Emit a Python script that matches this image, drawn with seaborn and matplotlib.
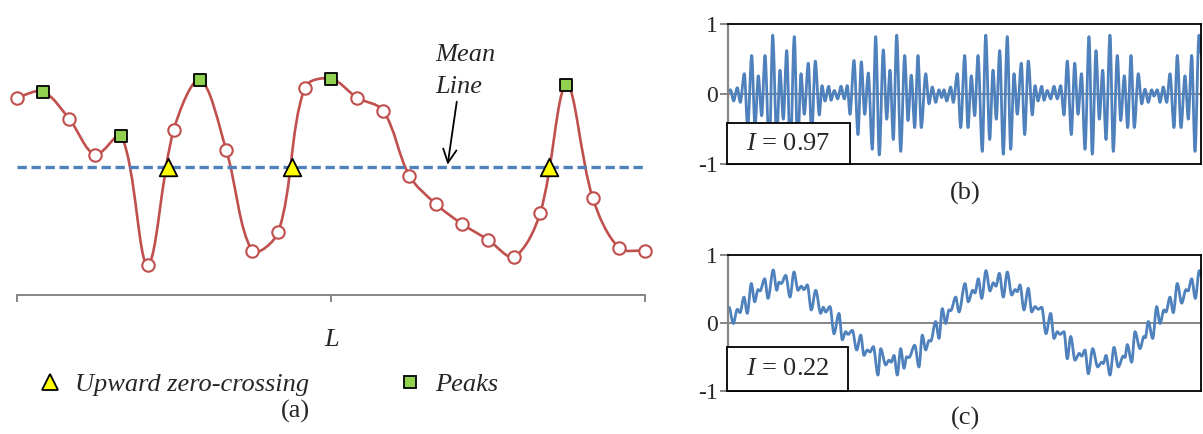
import numpy as np
import pandas as pd
import matplotlib
matplotlib.use("Agg")
import matplotlib.pyplot as plt
import seaborn as sns
from matplotlib.path import Path
from matplotlib.patches import PathPatch, Rectangle
from matplotlib.lines import Line2D

# ---------------- data ----------------
# (a) profile sampled at 25 equally spaced points (mean level = 0)
profile_x = list(range(25))
profile_y = [0.69, 0.75, 0.48, 0.12, 0.31, -0.98, 0.37, 0.87, 0.17, -0.84,
             -0.65, 0.79, 0.88, 0.69, 0.56, -0.09, -0.37, -0.57, -0.73, -0.90,
             -0.46, 0.82, -0.31, -0.81, -0.84]
peak_idx = [1, 4, 7, 12, 21]
upcross_x = [5.77, 10.52, 20.34]
mean_level = 0.0
axis_ticks_a = [0, 12, 24]

# (b) signal, successive extrema (t, value)
b_t = [0.0, 2.5, 5.6, 9.3, 12.3, 16.3, 19.7, 23.7, 27.0, 30.3, 33.7, 37.0, 41.3, 44.7,
       48.7, 52.0, 55.3, 58.7, 62.3, 66.3, 69.7, 73.0, 76.3, 80.3, 83.7, 87.3, 91.3,
       94.0, 97.0, 100.7, 103.0, 106.3, 109.7, 113.0, 116.3, 119.3, 122.0, 126.0,
       130.0, 133.3, 136.7, 140.3, 144.3, 147.7, 151.3, 155.3, 158.7, 162.0, 165.3,
       168.7, 172.7, 176.7, 180.0, 183.3, 186.7, 190.0, 193.3, 197.7, 201.0, 204.3,
       207.7, 211.0, 213.7, 216.0, 218.7, 222.7, 225.3, 229.3, 232.7, 236.7, 240.0,
       243.3, 246.7, 250.0, 254.3, 257.7, 261.7, 265.0, 268.3, 271.7, 275.3, 279.3,
       282.7, 286.0, 289.3, 293.3, 296.7, 300.3, 304.3, 307.0, 310.0, 313.7, 316.0,
       319.3, 322.7, 326.0, 329.3, 332.7, 336.0, 339.3, 343.3, 346.7, 350.0, 353.5,
       357.0, 361.0, 364.3, 368.0, 371.3, 374.7, 378.0, 382.0, 385.3, 389.3, 392.7,
       396.3, 399.7, 403.0, 406.3, 410.3, 413.7, 417.0, 420.3, 423.7, 426.0, 429.3,
       432.0, 435.3, 438.7, 442.0, 446.0, 449.3, 453.0, 457.0, 460.3, 463.7, 467.0,
       471.0, 473.0]
b_v = [0.03, 0.06, -0.10, 0.09, -0.12, 0.29, -0.48, 0.55, -0.48, 0.26, -0.31, 0.55,
       -0.82, 0.84, -0.65, 0.34, -0.36, 0.62, -0.86, 0.82, -0.79, 0.29, -0.29, 0.44,
       -0.58, 0.47, -0.30, 0.12, -0.10, 0.11, -0.09, 0.05, -0.07, 0.11, -0.07, 0.12,
       -0.29, 0.48, -0.58, 0.46, -0.29, 0.30, -0.79, 0.82, -0.87, 0.63, -0.36, 0.34,
       -0.65, 0.84, -0.82, 0.55, -0.38, 0.27, -0.48, 0.55, -0.48, 0.29, -0.14, 0.10,
       -0.12, 0.06, -0.05, 0.06, -0.10, 0.10, -0.12, 0.29, -0.48, 0.55, -0.48, 0.26,
       -0.31, 0.55, -0.82, 0.84, -0.65, 0.34, -0.36, 0.62, -0.86, 0.82, -0.79, 0.29,
       -0.29, 0.44, -0.58, 0.47, -0.30, 0.12, -0.10, 0.11, -0.09, 0.05, -0.07, 0.11,
       -0.07, 0.12, -0.30, 0.47, -0.58, 0.44, -0.29, 0.29, -0.79, 0.82, -0.86, 0.62,
       -0.36, 0.34, -0.65, 0.84, -0.82, 0.55, -0.38, 0.26, -0.48, 0.55, -0.48, 0.29,
       -0.14, 0.07, -0.12, 0.06, -0.03, 0.06, -0.12, 0.10, -0.12, 0.29, -0.48, 0.55,
       -0.48, 0.26, -0.36, 0.55, -0.82, 0.84, 0.58]

# (c) signal, successive extrema (t, value)
c_t = [1.0, 5.3, 9.3, 12.0, 16.0, 19.3, 23.3, 26.7, 30.0, 32.0, 36.7, 40.0, 45.3, 48.7,
       51.0, 53.3, 57.7, 62.0, 66.0, 70.0, 73.3, 76.0, 79.3, 83.3, 87.7, 92.7, 95.3,
       97.7, 102.0, 106.0, 111.0, 114.3, 117.7, 120.0, 124.3, 128.7, 132.7, 136.0,
       139.3, 142.0, 145.3, 150.0, 152.7, 157.7, 161.0, 163.3, 166.0, 169.3, 172.7,
       176.0, 178.7, 181.0, 186.7, 191.0, 194.3, 197.7, 201.0, 202.7, 207.7, 211.0,
       214.3, 217.7, 221.0, 222.7, 227.7, 231.0, 237.0, 240.3, 244.7, 247.0, 250.3,
       253.7, 258.0, 262.0, 265.3, 268.0, 271.3, 275.3, 279.3, 283.7, 287.0, 289.3,
       292.0, 296.0, 300.3, 303.7, 307.0, 310.3, 313.7, 318.0, 322.7, 326.0, 329.3,
       332.0, 336.0, 339.3, 342.7, 347.0, 351.3, 353.7, 357.0, 360.3, 364.7, 369.7,
       373.7, 375.3, 378.0, 382.0, 386.0, 390.3, 395.3, 397.0, 399.3, 403.7, 407.0,
       412.0, 416.0, 417.3, 420.3, 424.7, 428.7, 432.0, 436.0, 438.0, 442.0, 445.3,
       449.3, 453.7, 458.0, 460.0, 463.7, 467.3, 471.3, 473.0]
c_v = [0.23, -0.01, 0.20, 0.15, 0.38, 0.14, 0.58, 0.31, 0.49, 0.47, 0.65, 0.36, 0.78,
       0.48, 0.60, 0.58, 0.70, 0.38, 0.75, 0.48, 0.54, 0.49, 0.56, 0.19, 0.48, 0.14,
       0.23, 0.16, 0.24, -0.16, 0.14, -0.25, -0.13, -0.17, -0.11, -0.40, -0.18, -0.48,
       -0.40, -0.43, -0.35, -0.77, -0.38, -0.62, -0.55, -0.58, -0.48, -0.77, -0.38,
       -0.67, -0.50, -0.51, -0.33, -0.65, -0.18, -0.40, -0.26, -0.27, 0.02, -0.23,
       0.21, -0.01, 0.19, 0.18, 0.38, 0.16, 0.58, 0.31, 0.48, 0.44, 0.65, 0.36, 0.77,
       0.47, 0.59, 0.54, 0.73, 0.38, 0.75, 0.41, 0.49, 0.46, 0.56, 0.19, 0.51, 0.16,
       0.24, 0.20, 0.23, -0.16, 0.14, -0.23, -0.13, -0.17, -0.13, -0.53, -0.20, -0.55,
       -0.45, -0.49, -0.40, -0.75, -0.38, -0.65, -0.58, -0.60, -0.48, -0.77, -0.36,
       -0.65, -0.49, -0.51, -0.32, -0.58, -0.13, -0.38, -0.20, -0.22, 0.02, -0.23,
       0.24, -0.01, 0.19, 0.16, 0.38, 0.15, 0.58, 0.29, 0.49, 0.47, 0.65, 0.36, 0.77,
       0.70]

b_label = "$I$ = 0.97"
c_label = "$I$ = 0.22"
y_ticks_bc = [-1, 0, 1]
y_ticklabels_bc = ["-1", "0", "1"]

# ---------------- style ----------------
sns.set_theme(style="white")
plt.rcParams["font.family"] = ["Liberation Serif", "DejaVu Serif"]
plt.rcParams["mathtext.fontset"] = "custom"
plt.rcParams["mathtext.it"] = "Liberation Serif:italic"
plt.rcParams["mathtext.rm"] = "Liberation Serif"

RED = "#c0504d"
BLUE = "#4f81bd"
GRAY = "#868686"
W, H = 1203, 434

fig = plt.figure(figsize=(W / 100, H / 100), dpi=100)


def smooth_path(ax, x, y, tension=0.34):
    """Excel-like smoothed line: Bezier segments whose control points are
    weighted by neighbouring segment lengths measured on screen."""
    x = np.asarray(x, float)
    y = np.asarray(y, float)
    pts = ax.transData.transform(np.column_stack([x, y]))
    n = len(x)
    c_prev = [None] * n
    c_next = [None] * n
    for i in range(n):
        a = max(i - 1, 0)
        b = min(i + 1, n - 1)
        d01 = np.hypot(*(pts[i] - pts[a]))
        d12 = np.hypot(*(pts[b] - pts[i]))
        tot = d01 + d12 if d01 + d12 > 0 else 1.0
        vec = pts[b] - pts[a]
        c_prev[i] = pts[i] - tension * d01 / tot * vec
        c_next[i] = pts[i] + tension * d12 / tot * vec
    disp = [pts[0]]
    codes = [Path.MOVETO]
    for i in range(n - 1):
        disp += [c_next[i], c_prev[i + 1], pts[i + 1]]
        codes += [Path.CURVE4] * 3
    data = ax.transData.inverted().transform(np.array(disp))
    return Path(data, codes)


def extrema_path(x, y):
    verts = [(x[0], y[0])]
    codes = [Path.MOVETO]
    for i in range(1, len(x)):
        dx = x[i] - x[i - 1]
        verts += [(x[i - 1] + dx / 3, y[i - 1]), (x[i] - dx / 3, y[i]), (x[i], y[i])]
        codes += [Path.CURVE4] * 3
    return Path(verts, codes)


# ---------------- panel (a) ----------------
ax = fig.add_axes([16.7 / W, (H - 295) / H, (645 - 16.7) / W, (295 - 40) / H])
ax.set_xlim(0, 24)
ax.set_ylim(-1.283, 1.267)

ax.add_patch(PathPatch(smooth_path(ax, profile_x, profile_y), fill=False,
                       edgecolor=RED, lw=1.9, zorder=2, capstyle="round"))

mean_df = pd.DataFrame({"x": [profile_x[0], profile_x[-1]], "y": [mean_level, mean_level]})
ax.plot(mean_df["x"], mean_df["y"], color=BLUE, lw=2.4, linestyle=(0, (2.8, 1.4)), zorder=3)

circ = pd.DataFrame({"x": [profile_x[i] for i in range(25) if i not in peak_idx],
                     "y": [profile_y[i] for i in range(25) if i not in peak_idx]})
sns.scatterplot(data=circ, x="x", y="y", ax=ax, marker="o", s=80, color="white",
                edgecolor=RED, linewidth=1.5, zorder=4, legend=False, clip_on=False)
peaks = pd.DataFrame({"x": [profile_x[i] for i in peak_idx],
                      "y": [profile_y[i] for i in peak_idx]})
sns.scatterplot(data=peaks, x="x", y="y", ax=ax, marker="s", s=85, color="#92d050",
                edgecolor="black", linewidth=1.3, zorder=5, legend=False, clip_on=False)
ups = pd.DataFrame({"x": upcross_x, "y": [mean_level] * len(upcross_x)})
sns.scatterplot(data=ups, x="x", y="y", ax=ax, marker="^", s=160, color="#ffff00",
                edgecolor="black", linewidth=1.3, zorder=5, legend=False, clip_on=False)

for s in ["top", "right", "left"]:
    ax.spines[s].set_visible(False)
ax.spines["bottom"].set_color(GRAY)
ax.spines["bottom"].set_linewidth(1.4)
ax.set_xticks(axis_ticks_a)
ax.set_xticklabels(["", "", ""])
ax.tick_params(axis="x", direction="out", length=5, width=1.4, color=GRAY, bottom=True)
ax.set_yticks([])
ax.set_xlabel("")
ax.set_ylabel("")

fig.text(332 / W, 1 - 340 / H, "L", ha="center", va="center", fontsize=19, style="italic")

ax.text(15.98, 1.06, "Mean", fontsize=19, style="italic", ha="left", va="baseline")
ax.text(15.98, 0.74, "Line", fontsize=19, style="italic", ha="left", va="baseline")
ax.annotate("", xy=(16.46, 0.02), xytext=(16.81, 0.65),
            arrowprops=dict(arrowstyle="->", color="black", lw=1.3,
                            mutation_scale=24, shrinkA=0, shrinkB=0))

handles = [Line2D([], [], marker="^", linestyle="none", markersize=11,
                  markerfacecolor="#ffff00", markeredgecolor="black", markeredgewidth=1.3),
           Line2D([], [], marker="s", linestyle="none", markersize=9,
                  markerfacecolor="#92d050", markeredgecolor="black", markeredgewidth=1.3)]
leg = fig.legend(handles, ["Upward zero-crossing", "Peaks"], loc="center left",
                 bbox_to_anchor=(37 / W, 1 - 384 / H), ncol=2, frameon=False,
                 prop={"size": 19, "style": "italic"}, handlelength=1.0,
                 handletextpad=0.45, columnspacing=3.3, borderpad=0, borderaxespad=0)

fig.text(295 / W, 1 - 411 / H, "(a)", ha="center", va="center", fontsize=19)


# ---------------- panels (b), (c) ----------------
def signal_panel(rect, t, v, label, box_w, box_h, letter, letter_y):
    a = fig.add_axes(rect)
    a.set_xlim(0, 473)
    a.set_ylim(-1, 1)
    a.axhline(0, color=GRAY, lw=1.4, zorder=1)
    a.add_patch(PathPatch(extrema_path(t, v), fill=False, edgecolor=BLUE, lw=2.0,
                          zorder=2, capstyle="round", joinstyle="round"))
    for s in ["top", "right", "bottom"]:
        a.spines[s].set_color("black")
        a.spines[s].set_linewidth(1.3)
    a.spines["left"].set_color(GRAY)
    a.spines["left"].set_linewidth(1.6)
    a.set_xticks([])
    a.set_yticks(y_ticks_bc)
    a.set_yticklabels(y_ticklabels_bc)
    a.tick_params(axis="y", direction="out", length=5.5, width=1.4, color=GRAY,
                  left=True, labelsize=17, pad=2)
    a.add_patch(Rectangle((-0.002, 0.0), box_w, box_h, transform=a.transAxes,
                          facecolor="white", edgecolor="black", lw=1.3, zorder=5,
                          clip_on=False))
    a.text(-0.002 + box_w / 2, box_h / 2, label, transform=a.transAxes,
           ha="center", va="center", fontsize=19, zorder=6)
    fig.text(965 / W, 1 - letter_y / H, letter, ha="center", va="center", fontsize=19)
    return a


signal_panel([728 / W, (H - 164) / H, 473 / W, 140 / H], b_t, b_v, b_label,
             0.26, 0.29, "(b)", 193)
signal_panel([728 / W, (H - 390.7) / H, 473 / W, 135.7 / H], c_t, c_v, c_label,
             0.256, 0.322, "(c)", 418)

fig.savefig("out.png", dpi=100)
